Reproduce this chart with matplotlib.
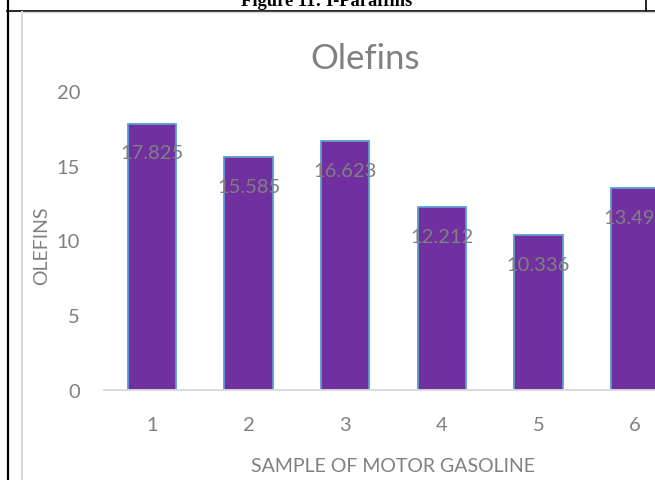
import matplotlib
matplotlib.use("Agg")
import matplotlib.pyplot as plt
from matplotlib.lines import Line2D

# olefin content per gasoline sample
samples = ["1", "2", "3", "4", "5", "6"]
olefins = [17.825, 15.585, 16.623, 12.212, 10.336, 13.495]
value_labels = ["17.825", "15.585", "16.623", "12.212", "10.336", "13.495"]
y_ticks = [0, 5, 10, 15, 20]

BAR_FILL = "#7030A0"
BAR_EDGE = "#5B9BD5"
TEXT_GRAY = "#808080"
AXIS_GRAY = "#D9D9D9"

plt.rcParams["font.family"] = ["Lato", "DejaVu Sans"]

W, H = 655, 481
fig = plt.figure(figsize=(W / 100, H / 100), dpi=100)

def px_x(x):
    return x / W

def px_y(y):
    return 1 - y / H

# page table lines around the chart
fig.add_artist(Line2D([px_x(7.5), px_x(7.5)], [0, 1], color="black", lw=1.6))
fig.add_artist(Line2D([px_x(7), 1], [px_y(12), px_y(12)], color="black", lw=1.2))
fig.add_artist(Line2D([px_x(645.5), px_x(645.5)], [px_y(12), 1], color="black", lw=1.2))
# chart area border
fig.add_artist(Line2D([px_x(21.5), px_x(21.5)], [0, px_y(13)], color=AXIS_GRAY, lw=1.5))
fig.add_artist(Line2D([px_x(21.5), 1], [px_y(13.2), px_y(13.2)], color=AXIS_GRAY, lw=1.0))

fig.text(px_x(327), px_y(6), "Figure 11: I-Paraffins", family="Liberation Serif",
         weight="bold", fontsize=13.3, ha="center", va="baseline")

ax = fig.add_axes([px_x(103.7), px_y(391), 579.6 / W, 299 / H])
x = list(range(1, len(samples) + 1))
ax.bar(x, olefins, width=0.5, color=BAR_FILL, edgecolor=BAR_EDGE, linewidth=1.3)

for xi, v, lab in zip(x, olefins, value_labels):
    ax.annotate(lab, (xi, v), xytext=(0, -29), textcoords="offset pixels",
                ha="center", va="center", fontsize=14.5, color=TEXT_GRAY)

ax.set_xlim(0.5, len(samples) + 0.5)
ax.set_ylim(0, 20)
ax.set_xticks(x)
ax.set_xticklabels(samples)
ax.set_yticks(y_ticks)
ax.tick_params(axis="both", length=0, labelsize=14.5, labelcolor=TEXT_GRAY)
ax.tick_params(axis="y", pad=17)
ax.tick_params(axis="x", pad=19)

for side in ["top", "right", "left"]:
    ax.spines[side].set_visible(False)
ax.spines["bottom"].set_color(AXIS_GRAY)
ax.spines["bottom"].set_linewidth(1.3)

ax.set_xlabel("SAMPLE OF MOTOR GASOLINE", fontsize=14, color=TEXT_GRAY, labelpad=17)
ax.set_ylabel("OLEFINS", fontsize=14, color=TEXT_GRAY)
ax.yaxis.label.set_va("center")
ax.yaxis.set_label_coords((41.7 - 103.7) / 579.6, (391 - 246) / 299)

fig.text(px_x(365), px_y(59), "Olefins", fontsize=25, color=TEXT_GRAY,
         ha="center", va="center")

fig.savefig("out.png", dpi=100)
